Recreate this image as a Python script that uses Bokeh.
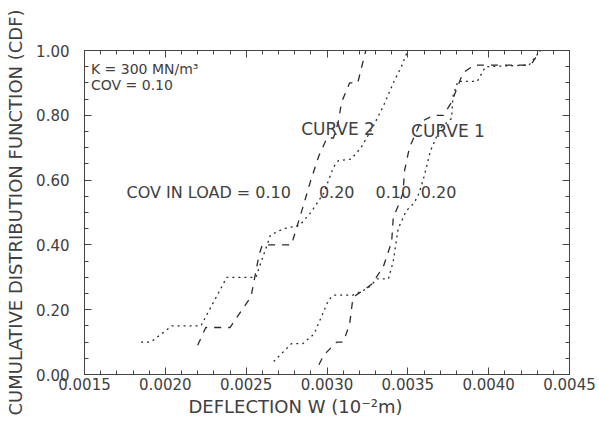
from bokeh.plotting import figure
from bokeh.models import (LinearAxis, FixedTicker, PrintfTickFormatter,
                          CustomJSTickFormatter, Label, Title)
from bokeh.embed import file_html
from bokeh.resources import INLINE

# Deflection W (10^-2 m) vs cumulative probability, two curves, two load COVs each
curve2_cov10_w = [0.00220, 0.00225, 0.00240, 0.00253, 0.00258, 0.00260, 0.00278,
                  0.00285, 0.00290, 0.00295, 0.00300, 0.00304, 0.00307, 0.00309,
                  0.00314, 0.00319, 0.00324]
curve2_cov10_p = [0.09, 0.145, 0.145, 0.24, 0.37, 0.40, 0.40,
                  0.515, 0.60, 0.675, 0.73, 0.73, 0.78, 0.84,
                  0.90, 0.90, 1.00]

curve2_cov20_w = [0.00185, 0.00191, 0.00204, 0.00222, 0.00238, 0.00256, 0.00265,
                  0.00273, 0.00283, 0.00290, 0.00298, 0.00304, 0.00307, 0.00315,
                  0.00321, 0.00328, 0.00335, 0.00341, 0.00346, 0.00350]
curve2_cov20_p = [0.10, 0.10, 0.15, 0.15, 0.30, 0.30, 0.43,
                  0.45, 0.46, 0.50, 0.56, 0.64, 0.66, 0.665,
                  0.70, 0.76, 0.83, 0.90, 0.95, 1.00]

curve1_cov10_w = [0.00295, 0.00298, 0.00306, 0.00310, 0.00314, 0.00316, 0.00318,
                  0.00324, 0.00328, 0.00335, 0.00340, 0.00341, 0.00344, 0.00347,
                  0.00348, 0.00351, 0.00358, 0.00366, 0.00372, 0.00377, 0.00384,
                  0.00391, 0.00426, 0.00432]
curve1_cov10_p = [0.03, 0.06, 0.10, 0.10, 0.155, 0.235, 0.245,
                  0.265, 0.28, 0.335, 0.41, 0.485, 0.52, 0.56,
                  0.63, 0.70, 0.78, 0.80, 0.80, 0.84, 0.93,
                  0.955, 0.955, 1.00]

curve1_cov20_w = [0.00267, 0.00278, 0.00285, 0.00292, 0.00301, 0.00304, 0.00316,
                  0.00325, 0.00331, 0.00338, 0.00341, 0.00344, 0.00349, 0.00354,
                  0.00357, 0.00360, 0.00364, 0.00370, 0.00377, 0.00378, 0.00381,
                  0.00393, 0.00398, 0.00425, 0.00432]
curve1_cov20_p = [0.04, 0.095, 0.095, 0.125, 0.23, 0.245, 0.245,
                  0.265, 0.295, 0.295, 0.35, 0.45, 0.505, 0.53,
                  0.56, 0.61, 0.69, 0.76, 0.79, 0.86, 0.905,
                  0.905, 0.95, 0.955, 1.00]

x_ticks = [0.0015, 0.0020, 0.0025, 0.0030, 0.0035, 0.0040, 0.0045]
y_ticks = [0.0, 0.2, 0.4, 0.6, 0.8, 1.0]
x_minor_step = 0.0001
y_minor_step = 0.05

FONT = "DejaVu Sans"
TEXT = "#404040"
INK = "#2b2b2b"

x_minor = [round(x_ticks[0] + i * x_minor_step, 6)
           for i in range(int(round((x_ticks[-1] - x_ticks[0]) / x_minor_step)) + 1)]
y_minor = [round(y_ticks[0] + i * y_minor_step, 4)
           for i in range(int(round((y_ticks[-1] - y_ticks[0]) / y_minor_step)) + 1)]

p = figure(width=599, height=427, x_range=(x_ticks[0], x_ticks[-1]),
           y_range=(y_ticks[0], y_ticks[-1]),
           output_backend="svg", toolbar_location=None,
           min_border_left=84, min_border_right=30, min_border_top=50,
           min_border_bottom=53)
p.background_fill_color = "white"
p.border_fill_color = "white"
p.outline_line_color = "#444444"
p.outline_line_width = 1
p.grid.visible = False


def style_axis(ax):
    ax.axis_line_color = "#444444"
    ax.major_tick_line_color = "#444444"
    ax.minor_tick_line_color = "#444444"
    ax.major_tick_in = 7
    ax.major_tick_out = 0
    ax.minor_tick_in = 4
    ax.minor_tick_out = 0
    ax.major_label_text_font = FONT
    ax.major_label_text_font_size = "15px"
    ax.major_label_text_color = TEXT


p.xaxis.ticker = FixedTicker(ticks=x_ticks, minor_ticks=x_minor)
p.xaxis.formatter = PrintfTickFormatter(format="%.4f")
p.yaxis.ticker = FixedTicker(ticks=y_ticks, minor_ticks=y_minor)
p.yaxis.formatter = PrintfTickFormatter(format="%.2f")
style_axis(p.xaxis[0])
style_axis(p.yaxis[0])
p.xaxis.major_label_standoff = 3
p.yaxis.major_label_standoff = 15

p.yaxis.axis_label = "CUMULATIVE DISTRIBUTION FUNCTION (CDF)"
p.yaxis.axis_label_text_font = FONT
p.yaxis.axis_label_text_font_size = "18px"
p.yaxis.axis_label_text_font_style = "normal"
p.yaxis.axis_label_text_color = TEXT
p.yaxis.axis_label_standoff = 7

blank = CustomJSTickFormatter(code="return ''")
top = LinearAxis(ticker=FixedTicker(ticks=x_ticks, minor_ticks=x_minor),
                 formatter=blank, major_label_standoff=0)
right = LinearAxis(ticker=FixedTicker(ticks=y_ticks, minor_ticks=y_minor),
                   formatter=blank, major_label_standoff=0)
style_axis(top)
style_axis(right)
p.add_layout(top, "above")
p.add_layout(right, "right")

# x-axis caption, set a little left of the frame centre
p.add_layout(Title(text="DEFLECTION W (10⁻²m)", align="left", offset=104,
                   text_font=FONT, text_font_size="18px", text_font_style="normal",
                   text_color=TEXT, standoff=2), "below")

# CDF curves: dashed = COV in load 0.10, dotted = 0.20
p.line(curve2_cov10_w, curve2_cov10_p, line_color=INK, line_width=1.3, line_dash="7 7")
p.line(curve2_cov20_w, curve2_cov20_p, line_color=INK, line_width=1.3, line_dash="2 4")
p.line(curve1_cov10_w, curve1_cov10_p, line_color=INK, line_width=1.3, line_dash="7 7")
p.line(curve1_cov20_w, curve1_cov20_p, line_color=INK, line_width=1.3, line_dash="2 4")


def note(x, y, text, size, align="left"):
    p.add_layout(Label(x=x, y=y, text=text, text_font=FONT, text_font_size=size,
                       text_color=TEXT, text_align=align, text_baseline="middle"))


note(0.00154, 0.944, "K = 300 MN/m³", "14px")
note(0.00154, 0.895, "COV = 0.10", "14px")
note(0.00284, 0.759, "CURVE 2", "17px")
note(0.00352, 0.753, "CURVE 1", "17px")
note(0.00176, 0.562, "COV IN LOAD = 0.10", "16px")
note(0.00295, 0.562, "0.20", "16px")
note(0.00330, 0.562, "0.10", "16px")
note(0.00358, 0.562, "0.20", "16px")

open("out.html", "w").write(file_html(p, INLINE))
